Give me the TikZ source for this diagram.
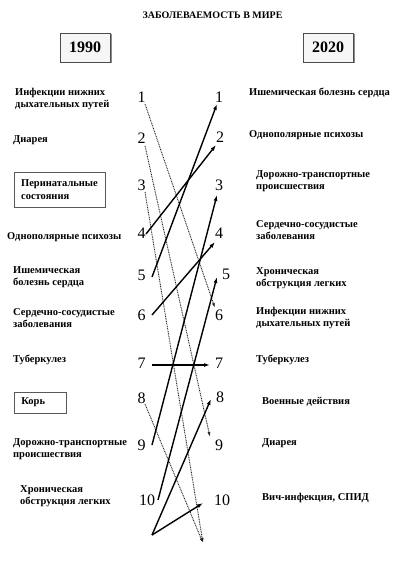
\documentclass[tikz,border=0pt]{standalone}
\usepackage{fontspec}
\setmainfont{Liberation Serif}
\usetikzlibrary{arrows.meta,shadows}
\begin{document}
\begin{tikzpicture}[x=1pt,y=-1pt,
  lab/.style={font=\bfseries\fontsize{10.5}{12.5}\selectfont, anchor=west, align=left, inner sep=0pt},
  num/.style={font=\fontsize{16}{16}\selectfont, inner sep=0pt},
  yearbox/.style={draw=black!70, fill=gray!7, minimum width=50pt, minimum height=29pt,
    font=\bfseries\fontsize{16}{16}\selectfont, line width=0.8pt,
    drop shadow={shadow xshift=1.5pt, shadow yshift=-1.5pt, fill=black!45, opacity=1}},
  framebox/.style={draw=black!65, fill=white, line width=0.7pt, font=\bfseries\fontsize{10.5}{12.5}\selectfont, align=left},
  boldarrow/.style={line width=1.4pt, -{Latex[length=6pt,width=4pt]}},
  dotarrow/.style={line width=0.9pt, draw=black!85, dash pattern=on 0.9pt off 0.8pt, -{Latex[length=5pt,width=3pt]}}]
\useasboundingbox (0,0) rectangle (400,561);
% title and years
\node[font=\bfseries\fontsize{10}{12}\selectfont, inner sep=0pt] (title) at (212.5,15) {ЗАБОЛЕВАЕМОСТЬ В МИРЕ};
\node[yearbox] (y1990) at (85,47.5) {1990};
\node[yearbox] (y2020) at (328,47.5) {2020};
% left labels
\node[lab] (l1) at (15,99) {Инфекции нижних\\дыхательных путей};
\node[lab] (l2) at (13,140) {Диарея};
\node[framebox, minimum width=91pt, minimum height=35pt, inner sep=0pt] (l3) at (59.5,189.5) {Перинатальные\\состояния};
\node[lab] (l4) at (7,237) {Однополярные психозы};
\node[lab] (l5) at (13,277) {Ишемическая\\болезнь сердца};
\node[lab] (l6) at (13,318) {Сердечно-сосудистые\\заболевания};
\node[lab] (l7) at (13,360) {Туберкулез};
\node[framebox, anchor=west, text width=38pt, inner xsep=7pt, minimum height=21pt, inner ysep=0pt] (l8) at (14,402.5) {Корь};
\node[lab] (l9) at (13,449) {Дорожно-транспортные\\происшествия};
\node[lab] (l10) at (20,496) {Хроническая\\обструкция легких};
% right labels
\node[lab] (r1) at (249,93) {Ишемическая болезнь сердца};
\node[lab] (r2) at (249,135) {Однополярные психозы};
\node[lab] (r3) at (256,181) {Дорожно-транспортные\\происшествия};
\node[lab] (r4) at (256,230) {Сердечно-сосудистые\\заболевания};
\node[lab] (r5) at (256,278) {Хроническая\\обструкция легких};
\node[lab] (r6) at (256,318) {Инфекции нижних\\дыхательных путей};
\node[lab] (r7) at (256,360) {Туберкулез};
\node[lab] (r8) at (262,402) {Военные действия};
\node[lab] (r9) at (262,443) {Диарея};
\node[lab] (r10) at (262,498) {Вич-инфекция, СПИД};
% left numbers
\node[num] (n1) at (141.5,97) {1};
\node[num] (n2) at (141.5,138) {2};
\node[num] (n3) at (141.5,185) {3};
\node[num] (n4) at (141.5,233) {4};
\node[num] (n5) at (141.5,275) {5};
\node[num] (n6) at (141.5,315) {6};
\node[num] (n7) at (141.5,363) {7};
\node[num] (n8) at (141.5,398) {8};
\node[num] (n9) at (141.5,445) {9};
\node[num] (n10) at (147,500) {10};
% right numbers
\node[num] (m1) at (219,97) {1};
\node[num] (m2) at (220,137) {2};
\node[num] (m3) at (219,185) {3};
\node[num] (m4) at (219,233) {4};
\node[num] (m5) at (226,274) {5};
\node[num] (m6) at (219,315) {6};
\node[num] (m7) at (219,363) {7};
\node[num] (m8) at (220,397) {8};
\node[num] (m9) at (219,445) {9};
\node[num] (m10) at (222,500) {10};
% connector end points
\coordinate (a1) at (145,104);
\coordinate (a2) at (145,146);
\coordinate (a3) at (145,192);
\coordinate (a4) at (146,234);
\coordinate (a5) at (152,277);
\coordinate (a6) at (152,315);
\coordinate (a7) at (152,365);
\coordinate (a8) at (145,404);
\coordinate (a9) at (152,445);
\coordinate (a10) at (158,500);
\coordinate (src) at (152,535);
\coordinate (b1) at (217,104);
\coordinate (b2) at (216,145);
\coordinate (b3) at (217,195);
\coordinate (b4) at (215,242);
\coordinate (b5) at (217,277);
\coordinate (b6) at (215,308);
\coordinate (b7) at (210,365);
\coordinate (b8) at (211,399);
\coordinate (b9) at (210,437);
\coordinate (b10) at (203,503);
\coordinate (drop) at (203,543);
% dotted connectors
\draw[dotarrow] (a1) -- (b6);
\draw[dotarrow] (a2) -- (b9);
\draw[dotarrow] (a3) -- (drop);
\draw[dotarrow] (a8) -- (drop);
% bold connectors
\draw[boldarrow] (a4) -- (b2);
\draw[boldarrow] (a5) -- (b1);
\draw[boldarrow] (a6) -- (b4);
\draw[boldarrow] (a7) -- (b7);
\draw[boldarrow] (a9) -- (b3);
\draw[boldarrow] (a10) -- (b5);
\draw[boldarrow] (src) -- (b8);
\draw[boldarrow] (src) -- (b10);
\end{tikzpicture}
\end{document}
